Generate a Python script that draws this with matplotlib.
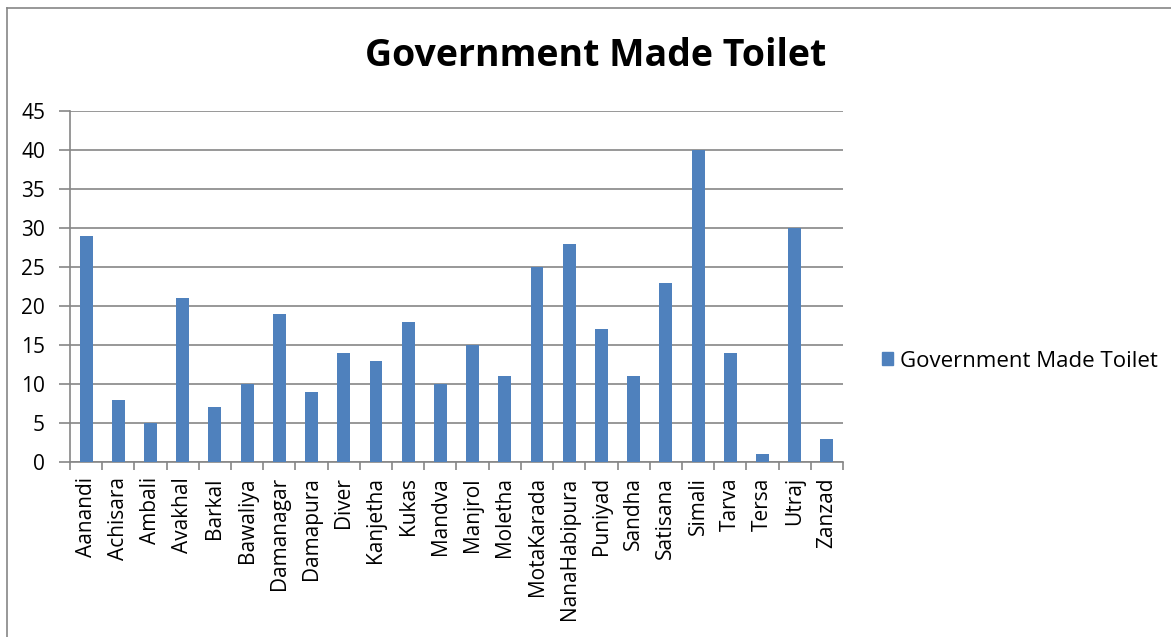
import matplotlib
matplotlib.use("Agg")
import matplotlib.pyplot as plt
from matplotlib.lines import Line2D
from matplotlib.patches import Patch
import numpy as np

plt.rcParams['font.family'] = ['Open Sans', 'DejaVu Sans']

villages = ["Aanandi", "Achisara", "Ambali", "Avakhal", "Barkal", "Bawaliya",
            "Damanagar", "Damapura", "Diver", "Kanjetha", "Kukas", "Mandva",
            "Manjrol", "Moletha", "MotaKarada", "NanaHabipura", "Puniyad",
            "Sandha", "Satisana", "Simali", "Tarva", "Tersa", "Utraj", "Zanzad"]
toilets = [29, 8, 5, 21, 7, 10, 19, 9, 14, 13, 18, 10, 15, 11, 25, 28, 17,
           11, 23, 40, 14, 1, 30, 3]
y_ticks = [0, 5, 10, 15, 20, 25, 30, 35, 40, 45]
series_name = "Government Made Toilet"
title = "Government Made Toilet"

BAR = "#4F81BD"
GRID = "#868686"
LABEL_SIZE = 15

W, H = 1171, 637
fig = plt.figure(figsize=(W / 100, H / 100), dpi=100)
ax = fig.add_axes([70 / W, 1 - 462 / H, (843 - 70) / W, (462 - 111) / H])

x = np.arange(len(villages))
ax.bar(x, toilets, width=0.4, color=BAR, zorder=3)

ax.set_xlim(-0.5, len(villages) - 0.5)
ax.set_ylim(0, 45)
ax.set_yticks(y_ticks)
ax.set_yticklabels([str(v) for v in y_ticks], fontsize=LABEL_SIZE, color="black")
ax.yaxis.grid(True, color=GRID, linewidth=1.2, zorder=0)
ax.tick_params(axis="y", length=8, width=1.2, color=GRID, pad=10, direction="out")

ax.set_xticks(x)
ax.set_xticklabels(villages, rotation=90, fontsize=LABEL_SIZE, color="black")
ax.tick_params(axis="x", which="major", length=0, pad=11)
ax.set_xticks(np.arange(len(villages) + 1) - 0.5, minor=True)
ax.tick_params(axis="x", which="minor", length=6, width=1.2, color=GRID, direction="out")

for side in ["top", "right"]:
    ax.spines[side].set_visible(False)
for side in ["left", "bottom"]:
    ax.spines[side].set_color(GRID)
    ax.spines[side].set_linewidth(1.2)

fig.text(596 / W, 1 - 56 / H, title, ha="center", va="center",
         fontsize=27, fontweight="bold", color="black")

handle = Patch(facecolor=BAR, edgecolor=BAR)
fig.legend([handle], [series_name], loc="center left",
           bbox_to_anchor=(882 / W, 1 - 361 / H), frameon=False,
           fontsize=16, handlelength=0.5, handleheight=0.5,
           handletextpad=0.3, borderpad=0, borderaxespad=0)

# chart frame
fig.add_artist(Line2D([7 / W, 1.0], [1 - 8 / H, 1 - 8 / H], color=GRID,
                      linewidth=1.2, transform=fig.transFigure))
fig.add_artist(Line2D([7 / W, 7 / W], [0.0, 1 - 8 / H], color=GRID,
                      linewidth=1.2, transform=fig.transFigure))

fig.savefig("out.png", dpi=100, facecolor="white")
